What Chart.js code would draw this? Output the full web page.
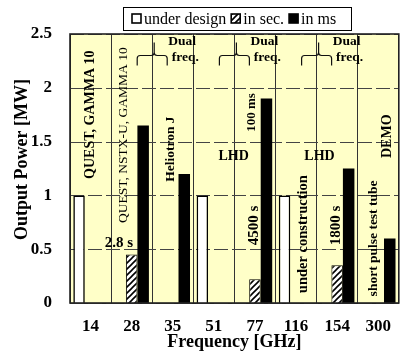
<!DOCTYPE html>
<html>
<head>
<meta charset="utf-8">
<script src="https://cdn.jsdelivr.net/npm/chart.js@4/dist/chart.umd.min.js"></script>
<style>
  html, body { margin: 0; padding: 0; background: #fff; }
  #wrap { width: 404px; height: 354px; }
</style>
</head>
<body>
<div id="wrap"><canvas id="chart" width="404" height="354"></canvas></div>
<script>
const categories = ['14', '28', '35', '51', '77', '116', '154', '300'];
const underDesign = [1.0, null, null, 1.0, null, 1.0, null, null];
const inSec = [null, 0.45, null, null, 0.22, null, 0.35, null];
const inMs = [null, 1.65, 1.2, null, 1.9, null, 1.25, 0.6];
const yTicks = [0, 0.5, 1, 1.5, 2, 2.5];
const seriesNames = ['under design', 'in sec.', 'in ms'];
const yTitle = 'Output Power [MW]';

// labels written on the plot: text, category position, y value, rotated?, size, bold
const notes = [
    ['QUEST, GAMMA 10', 0.0, 1.75, true, 14, true],
    ['QUEST, NSTX-U, GAMMA 10', 0.81, 1.56, true, 13.5, false],
    ['2.8 s', 0.69, 0.56, false, 15, true],
    ['Heliotron J', 1.95, 1.43, true, 13.5, true],
    ['LHD', 3.48, 1.36, false, 14, true],
    ['100 ms', 3.93, 1.77, true, 13, true],
    ['4500 s', 3.98, 0.72, true, 15, true],
    ['LHD', 5.57, 1.36, false, 14, true],
    ['under construction', 5.17, 0.64, true, 14.5, true],
    ['1800 s', 5.98, 0.72, true, 15, true],
    ['short pulse test tube', 6.88, 0.6, true, 13.5, true],
    ['DEMO', 7.22, 1.55, true, 14, true]
];
// pairs of categories marked as dual frequency (brace on their shared border)
const dualFreq = [[1, 2], [3, 4], [5, 6]];

const serif = 'Liberation Serif, Times New Roman, serif';

function hatch() {
    let c = document.createElement('canvas');
    c.width = 6; c.height = 6;
    let g = c.getContext('2d');
    g.fillStyle = '#fff';
    g.fillRect(0, 0, 6, 6);
    g.strokeStyle = '#000';
    g.lineWidth = 1.6;
    g.beginPath();
    g.moveTo(0, 6); g.lineTo(6, 0);
    g.moveTo(-3, 3); g.lineTo(3, -3);
    g.moveTo(3, 9); g.lineTo(9, 3);
    g.stroke();
    return g.createPattern(c, 'repeat');
}

function catX(scale, pos) {
    let step = scale.width / categories.length;
    return scale.left + (pos + 0.5) * step;
}

const plotDecor = {
    id: 'plotDecor',
    beforeDraw(chart) {
        let a = chart.chartArea, ctx = chart.ctx;
        ctx.save();
        ctx.fillStyle = '#FFFFC8';
        ctx.fillRect(a.left, a.top, a.right - a.left, a.bottom - a.top);
        ctx.restore();
    },
    beforeDatasetsDraw(chart) {
        // dashed horizontal grid from the y scale ticks
        let a = chart.chartArea, ctx = chart.ctx, ys = chart.scales.y;
        ctx.save();
        ctx.strokeStyle = '#444';
        ctx.lineWidth = 1;
        ctx.setLineDash([14, 4]);
        ys.ticks.forEach(t => {
            let py = Math.round(ys.getPixelForValue(t.value)) + 0.5;
            ctx.beginPath();
            ctx.moveTo(a.left, py);
            ctx.lineTo(a.right, py);
            ctx.stroke();
        });
        ctx.restore();
    },
    afterDraw(chart) {
        let a = chart.chartArea, ctx = chart.ctx;
        let xs = chart.scales.x, ys = chart.scales.y;
        ctx.save();
        ctx.strokeStyle = '#222';
        ctx.lineWidth = 1.6;
        ctx.strokeRect(a.left, a.top, a.right - a.left, a.bottom - a.top);

        ctx.fillStyle = '#000';
        ctx.textAlign = 'center';
        ctx.textBaseline = 'middle';

        // y axis title
        ctx.save();
        ctx.font = 'bold 18px ' + serif;
        ctx.translate(22, (a.top + a.bottom) / 2 - 9);
        ctx.rotate(-Math.PI / 2);
        ctx.fillText(yTitle, 0, 0);
        ctx.restore();

        // notes
        notes.forEach(n => {
            let px = catX(xs, n[1]), py = ys.getPixelForValue(n[2]);
            ctx.font = (n[5] ? 'bold ' : '') + n[4] + 'px ' + serif;
            ctx.save();
            ctx.translate(px, py);
            if (n[3]) ctx.rotate(-Math.PI / 2);
            ctx.fillText(n[0], 0, 0);
            ctx.restore();
        });

        // dual freq braces
        ctx.lineWidth = 1.2;
        ctx.strokeStyle = '#111';
        dualFreq.forEach(p => {
            let bx = (catX(xs, p[0]) + catX(xs, p[1])) / 2 + 2;
            let by = ys.getPixelForValue(2.3);
            ctx.beginPath();
            ctx.moveTo(bx - 17, by + 10);
            ctx.lineTo(bx - 17, by + 3);
            ctx.quadraticCurveTo(bx - 17, by, bx - 14, by);
            ctx.lineTo(bx - 3, by);
            ctx.quadraticCurveTo(bx, by, bx, by - 3);
            ctx.lineTo(bx, by - 13);
            ctx.moveTo(bx, by - 3);
            ctx.quadraticCurveTo(bx, by, bx + 3, by);
            ctx.lineTo(bx + 10, by);
            ctx.quadraticCurveTo(bx + 13, by, bx + 13, by + 3);
            ctx.lineTo(bx + 13, by + 10);
            ctx.stroke();
            ctx.font = 'bold 13.5px ' + serif;
            ctx.fillText('Dual', bx + 28, by - 14);
            ctx.fillText('freq.', bx + 31, by + 2);
        });

        // legend box
        let lx = 123, ly = 7, lw = 228, lh = 23;
        ctx.fillStyle = '#fff';
        ctx.fillRect(lx, ly, lw, lh);
        ctx.strokeStyle = '#000';
        ctx.lineWidth = 1;
        ctx.strokeRect(lx + 0.5, ly + 0.5, lw, lh);
        ctx.font = '16px ' + serif;
        ctx.textAlign = 'left';
        let x = lx + 9;
        chart.data.datasets.forEach((ds, i) => {
            ctx.fillStyle = ds.backgroundColor;
            ctx.fillRect(x, ly + 7, 9, 9);
            ctx.lineWidth = 1.6;
            ctx.strokeStyle = '#000';
            ctx.strokeRect(x, ly + 7, 9, 9);
            ctx.fillStyle = '#000';
            ctx.fillText(ds.label, x + 12, ly + 12.5);
            x += 12 + ctx.measureText(ds.label).width + 5;
        });
        ctx.restore();
    }
};

const ctx = document.getElementById('chart').getContext('2d');
const chart = new Chart(ctx, {
    type: 'bar',
    data: {
        labels: categories,
        datasets: [{
            label: seriesNames[0],
            data: underDesign,
            backgroundColor: '#fff',
            borderColor: '#000',
            borderWidth: 1.6
        }, {
            label: seriesNames[1],
            data: inSec,
            backgroundColor: hatch(),
            borderColor: '#000',
            borderWidth: 1
        }, {
            label: seriesNames[2],
            data: inMs,
            backgroundColor: '#000',
            borderColor: '#000',
            borderWidth: 0
        }]
    },
    options: {
        responsive: false,
        animation: false,
        categoryPercentage: 0.84,
        barPercentage: 1.0,
        layout: { padding: { top: 34, left: 0, right: 0, bottom: 0 } },
        plugins: {
            legend: { display: false },
            tooltip: { enabled: false }
        },
        scales: {
            x: {
                afterFit(s) { s.height = 51; },
                grid: { color: '#333', lineWidth: 1, drawTicks: false },
                border: { display: true, color: '#222' },
                ticks: { color: '#000', padding: 13, font: { family: serif, size: 17, weight: 'bold' } },
                title: {
                    display: true, text: 'Frequency [GHz]', color: '#000',
                    padding: { top: 0, bottom: 1 },
                    font: { family: serif, size: 18, weight: 'bold' }
                }
            },
            y: {
                min: 0, max: 2.5,
                afterFit(s) { s.width = 70; },
                afterBuildTicks(s) { s.ticks = yTicks.map(v => ({ value: v })); },
                grid: { display: false, drawTicks: false },
                border: { display: true, color: '#222' },
                ticks: {
                    color: '#000', padding: 18,
                    font: { family: serif, size: 17, weight: 'bold' },
                    callback: v => String(v)
                }
            }
        }
    },
    plugins: [plotDecor]
});
</script>
</body>
</html>
